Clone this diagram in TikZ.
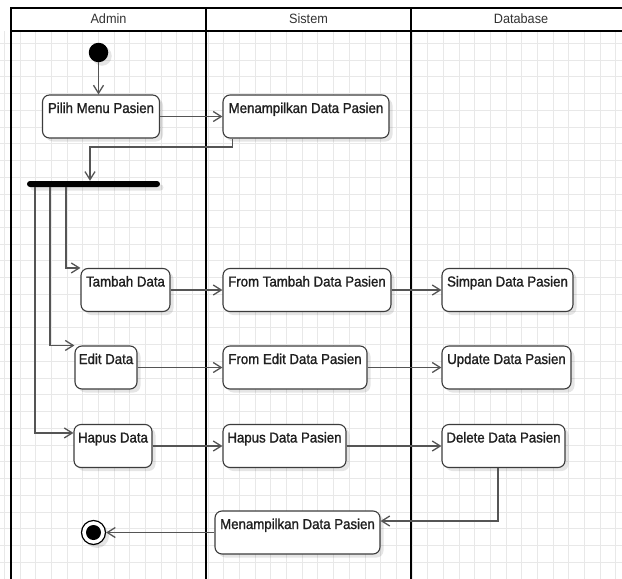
\documentclass[tikz,border=0pt]{standalone}
\usepackage{fontspec}
\setmainfont{Liberation Sans}
\newfontfamily\actfont[FakeBold=1.3,FakeStretch=0.92]{Liberation Sans}
\newfontfamily\hdrfont[FakeStretch=0.94]{Liberation Sans}
\usetikzlibrary{arrows.meta,shadows,calc}

\definecolor{gridc}{HTML}{E8E8E8}
\definecolor{linkc}{HTML}{555555}
\definecolor{boxc}{HTML}{3C3C3C}

\tikzset{
  gridline/.style={draw=gridc, line width=0.9pt},
  lane/.style={draw=black, line width=2.2pt},
  hdr/.style={font=\hdrfont\fontsize{13.5}{15}\selectfont, text=black!80, inner sep=0pt},
  softshadow/.style={drop shadow={shadow xshift=3.5pt, shadow yshift=-3.5pt, opacity=0.10, fill=black}},
  act/.style={draw=boxc, line width=1.1pt, rounded corners=7pt, fill=white,
    inner xsep=0pt, inner ysep=0pt, text height=18pt, text depth=25pt,
    font=\actfont\fontsize{14.4}{16}\selectfont, text=black!88, softshadow},
  startnode/.style={circle, fill=black, minimum size=19.5pt, inner sep=0pt, softshadow},
  endnode/.style={circle, draw=black, line width=1.2pt, fill=white, minimum size=24pt, inner sep=0pt,
    softshadow, path picture={\fill[black] (path picture bounding box.center) circle (7.5pt);}},
  forkbar/.style={fill=black, rounded corners=3pt, minimum width=133pt, minimum height=6pt, inner sep=0pt, softshadow},
  flow/.style={draw=linkc, line width=1.3pt, -{Straight Barb[length=8pt,width=10pt]}},
}

\begin{document}
\begin{tikzpicture}[x=1pt,y=-1pt]
\useasboundingbox (0,0) rectangle (622,579);
\fill[white] (0,0) rectangle (622,579);

% background grid
\foreach \k in {-1,...,38} \draw[gridline] ({20+15.68*\k},31) -- ({20+15.68*\k},579);
\foreach \k in {0,...,32} \draw[gridline] (0,{43.3+16.74*\k}) -- (622,{43.3+16.74*\k});

% swimlanes
\fill[white] (11,8) rectangle (622,31);
\draw[lane] (11,579) -- (11,8) -- (625,8);
\draw[lane] (11,31) -- (625,31);
\draw[lane] (206,8) -- (206,579);
\draw[lane] (411,8) -- (411,579);
\node[hdr] (hAdmin) at (108.5,19) {Admin};
\node[hdr] (hSistem) at (308.5,19) {Sistem};
\node[hdr] (hDb) at (521,19) {Database};

% activities
\node[startnode] (init) at (98.5,52.5) {};
\node[act, minimum width=117pt] (pilih) at (101,116.5) {Pilih Menu Pasien};
\node[act, minimum width=166pt] (men1) at (306,116.5) {Menampilkan Data Pasien};
\node[forkbar] (fork) at (93.5,184) {};

\node[act, minimum width=89pt] (tambah) at (125.5,290) {Tambah Data};
\node[act, minimum width=168pt] (fromtambah) at (307,290) {From Tambah Data Pasien};
\node[act, minimum width=131pt] (simpan) at (507.5,290) {Simpan Data Pasien};

\node[act, minimum width=62pt] (edit) at (106,367.5) {Edit Data};
\node[act, minimum width=144pt] (fromedit) at (295,367.5) {From Edit Data Pasien};
\node[act, minimum width=129pt] (update) at (506.5,367.5) {Update Data Pasien};

\node[act, minimum width=78pt] (hapus) at (113,446) {Hapus Data};
\node[act, minimum width=123pt] (hapusp) at (284.5,446) {Hapus Data Pasien};
\node[act, minimum width=123pt] (delete) at (503.5,446) {Delete Data Pasien};

\node[act, minimum width=165pt] (men2) at (297.5,532.5) {Menampilkan Data Pasien};
\node[endnode] (fin) at (93.5,532.5) {};

% helper points for the elbow connectors
\coordinate (m1out) at ($(men1.south west)+(10,0)$);
\coordinate (j1) at (90,147);
\coordinate (tapA) at (66,0);
\coordinate (tapB) at (50,0);
\coordinate (tapC) at (35,0);
\coordinate (dout) at ($(delete.south)+(-5.5,0)$);

% control flow
\draw[flow] (init) -- (init |- pilih.north);
\draw[flow] (pilih) -- (men1);
\draw[flow] (m1out) |- (j1) -- (j1 |- fork.north);
\draw[flow] (fork.south -| tapA) |- (tambah.north west);
\draw[flow] (fork.south -| tapB) |- (edit.north west);
\draw[flow] (fork.south -| tapC) |- ($(hapus.north west)+(0,9)$);
\draw[flow] (tambah) -- (fromtambah);
\draw[flow] (fromtambah) -- (simpan);
\draw[flow] (edit) -- (fromedit);
\draw[flow] (fromedit) -- (update);
\draw[flow] (hapus) -- (hapusp);
\draw[flow] (hapusp) -- (delete);
\draw[flow] (dout) |- ($(men2.east)+(0,-11.5)$);
\draw[flow] (men2) -- (fin);
\end{tikzpicture}
\end{document}
